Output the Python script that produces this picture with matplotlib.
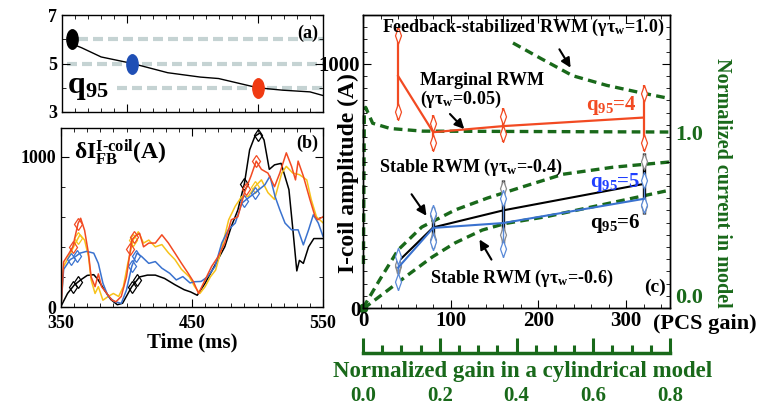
import numpy as np
import matplotlib
matplotlib.use("Agg")
import matplotlib.pyplot as plt
from matplotlib.markers import MarkerStyle
from matplotlib.path import Path
from matplotlib.transforms import Affine2D
from matplotlib.ticker import MultipleLocator

plt.rcParams['font.family'] = ['Liberation Serif', 'DejaVu Serif']
plt.rcParams['font.weight'] = 'bold'
plt.rcParams['axes.labelweight'] = 'bold'
plt.rcParams['mathtext.fontset'] = 'custom'
plt.rcParams['mathtext.rm'] = 'Liberation Serif:bold'
plt.rcParams['mathtext.bf'] = 'Liberation Serif:bold'
plt.rcParams['mathtext.it'] = 'Liberation Serif:bold'
plt.rcParams['axes.linewidth'] = 1.0

# ── panel (a): q95 vs time ─────────────────
q_t = [358, 365, 380, 404, 431, 456, 470, 500, 519, 540, 550]
q_v = [5.8, 5.65, 5.27, 5.0, 4.62, 4.44, 4.38, 4.0, 3.9, 3.83, 3.68]
q_mark_t = [358, 404, 500]
q_mark_v = [6.0, 5.0, 4.0]
q_mark_c = ['black', '#1f4fb5', '#f03a12']
ref_levels = [6, 5, 4]
ref_start = [362, 354, 392]

# ── panel (b): feedback current traces ─────
black_t = [350, 355, 360, 365, 370, 375, 378, 383, 388, 393, 397, 404, 410, 416, 422, 429, 437,
           444, 449, 454, 460, 467, 475, 480, 485, 490, 494, 498, 502, 505, 509, 513, 518, 524,
           527, 530, 532, 535, 539, 543, 550]
black_v = [5, 90, 145, 180, 210, 215, 185, 115, 50, 15, 25, 135, 200, 212, 212, 190, 148,
           115, 100, 78, 158, 270, 400, 535, 645, 820, 1045, 1135, 1158, 1110, 915, 945, 955, 780,
           515, 240, 310, 290, 400, 455, 455]
red_t = [350, 352, 356, 359, 363, 365, 368, 371, 373, 376, 378.5, 381, 385, 389, 392, 396, 400,
         404, 406.5, 410, 413, 417, 422, 427, 432, 437, 442, 447, 451, 455, 460, 465, 470, 475,
         480, 485, 490, 495, 499, 503, 508, 513, 517, 522, 526, 529, 531, 535, 540, 544, 546, 550]
red_v = [0, 300, 355, 400, 555, 590, 510, 355, 200, 135, 220, 135, 90, 45, 35, 70, 200,
         445, 470, 490, 400, 425, 425, 480, 425, 358, 290, 225, 170, 90, 180, 270, 335, 425,
         580, 600, 760, 870, 970, 915, 890, 800, 890, 1025, 935, 845, 970, 870, 715, 600, 580, 600]
yellow_t = [350, 352, 356, 361, 364.5, 368, 371, 373, 376, 378.5, 382, 386, 390, 394, 397.6,
            401, 405, 409, 413, 417, 422, 427, 432, 437, 442, 448, 452, 456, 460, 464, 468,
            473, 478, 483, 488, 493, 498, 503, 508, 513, 518.5, 522, 527, 532, 537.6, 541, 545, 550]
yellow_v = [0, 270, 335, 425, 480, 445, 335, 180, 90, 135, 45, 70, 90, 70, 135,
            290, 445, 500, 425, 445, 400, 415, 360, 315, 250, 200, 136, 90, 135, 200, 245,
            400, 580, 670, 735, 735, 800, 845, 760, 715, 890, 935, 890, 880, 845, 715, 600, 560]
blue_t = [350, 352, 357, 361, 364.5, 369.6, 375, 378.5, 382, 386, 391, 396, 400, 404, 408,
          411.5, 417, 422, 427, 433, 438, 443, 448.5, 452, 457, 462, 467.6, 472.7, 477.7, 483,
          488, 493, 498, 505.7, 509.5, 513.4, 517, 521, 526, 531, 535, 539, 542.6, 546.4, 550]
blue_v = [0, 250, 315, 335, 358, 370, 358, 290, 158, 70, 36, 24, 113, 270, 358,
          336, 290, 302, 258, 224, 180, 202, 160, 168, 170, 202, 270, 425, 513, 558,
          690, 725, 758, 813, 870, 735, 647, 558, 513, 513, 413, 513, 613, 558, 470]
black_mk = [359, 363, 404, 408, 490, 500]
red_mk = [359, 363, 403, 406, 491, 499]
yellow_mk = [363, 405, 498]
blue_mk = [358, 362, 404, 407, 490, 498]

# ── panel (c): I-coil amplitude vs PCS gain ─
gain = [40, 80, 160, 320]
red_amp = [950, 720, 745, 780]
red_lo = [770, 645, 680, 645]
red_hi = [1150, 790, 820, 915]
black_amp = [190, 330, 400, 508]
black_lo = [145, 245, 265, 385]
black_hi = [205, 415, 525, 635]
blue_amp = [165, 328, 348, 447]
blue_lo = [75, 238, 209, 389]
blue_hi = [246, 422, 484, 557]

# model curves (normalized current)
marg_g = [0.5, 1.5, 3, 11, 31, 68, 350]
marg_y = [0.25, 1.10, 1.14, 1.05, 1.02, 1.005, 1.0]
fb_g = [171, 202, 239, 278, 315, 350]
fb_y = [1.506, 1.42, 1.32, 1.265, 1.225, 1.19]
st4_g = [0, 19, 40, 67, 105, 142, 181, 228, 285, 350]
st4_y = [0, 0.16, 0.33, 0.46, 0.557, 0.625, 0.687, 0.76, 0.80, 0.83]
st6_g = [0, 6, 28, 48, 79, 105, 136, 162, 210, 285, 350]
st6_y = [0, 0.017, 0.10, 0.176, 0.29, 0.37, 0.443, 0.48, 0.52, 0.60, 0.67]

GREEN = '#19691a'
RED = '#f24a22'
BLUE = '#3a72cf'
YEL = '#f7c21a'

fig = plt.figure(figsize=(7.71, 4.08), dpi=100)
W, H = 771, 408


def box(l, t, r, b):
    return [l / W, 1 - b / H, (r - l) / W, (b - t) / H]


def style(ax):
    ax.tick_params(which='both', direction='in', top=True, right=True, labelsize=13)
    ax.tick_params(which='major', length=6)
    ax.tick_params(which='minor', length=3)


# ── (a) ─────────────────────────────────────
axa = fig.add_axes(box(62, 15, 323, 112))
for lev, st in zip(ref_levels, ref_start):
    axa.plot([st, 550], [lev, lev], color='#c5d3d3', lw=3, ls=(0, (2.4, 1.2)), zorder=1)
axa.plot(q_t, q_v, color='black', lw=1.0, zorder=2)
ell = MarkerStyle('o', transform=Affine2D().scale(0.58, 1))
for t, v, c in zip(q_mark_t, q_mark_v, q_mark_c):
    axa.plot(t, v, marker=ell, ms=14, color=c, mec=c, zorder=3)
axa.set_xlim(350, 550)
axa.set_ylim(3, 7)
axa.set_yticks([3, 5, 7])
axa.xaxis.set_major_locator(MultipleLocator(100))
axa.xaxis.set_minor_locator(MultipleLocator(10))
axa.yaxis.set_minor_locator(MultipleLocator(1))
style(axa)
axa.set_xticklabels([])
axa.text(0.94, 0.81, '(a)', transform=axa.transAxes, fontsize=13, ha='center', va='center')
axa.text(0.02, 0.25, r'$\mathrm{q_{95}}$', transform=axa.transAxes, fontsize=23,
         ha='left', va='center')

# ── (b) ─────────────────────────────────────
axb = fig.add_axes(box(61, 128, 323, 307))
for tt, vv, mk, c in [(black_t, black_v, black_mk, 'black'), (yellow_t, yellow_v, yellow_mk, YEL),
                      (blue_t, blue_v, blue_mk, BLUE), (red_t, red_v, red_mk, RED)]:
    axb.plot(tt, vv, color=c, lw=1.1)
    axb.plot(mk, np.interp(mk, tt, vv), ls='none', marker='d', ms=6, mfc='none', mec=c, mew=0.9)
axb.set_xlim(350, 550)
axb.set_ylim(0, 1190)
axb.set_xticks([350, 450, 550])
axb.set_yticks([0, 1000])
axb.xaxis.set_minor_locator(MultipleLocator(10))
axb.yaxis.set_minor_locator(MultipleLocator(200))
style(axb)
axb.tick_params(axis='x', pad=6)
axb.set_xlabel('Time (ms)', fontsize=15, labelpad=0)
axb.text(0.94, 0.915, '(b)', transform=axb.transAxes, fontsize=13, ha='center', va='center')
axb.text(0.05, 0.86, r'$\mathrm{\delta I}^{\text{I-coil}}_{\mathrm{FB}}$(A)', transform=axb.transAxes,
         fontsize=17, ha='left', va='center')

# ── (c) ─────────────────────────────────────
axc = fig.add_axes(box(363, 15, 670, 308))
axr = axc.twinx()
axr.set_zorder(0)
axc.set_zorder(1)
axc.patch.set_visible(False)

dash = (0, (2.6, 1.6))
for gg, yy in [(marg_g, marg_y), (fb_g, fb_y), (st4_g, st4_y), (st6_g, st6_y)]:
    axr.plot(gg, yy, color=GREEN, lw=2.4, ls=dash, clip_on=False)
axr.plot(0, 0, 'o', color=GREEN, ms=6, clip_on=False)
axr.set_ylim(0, 1.665)
axr.set_yticks([0, 1])
axr.set_yticklabels(['0.0', '1.0'], color=GREEN, fontsize=16)
axr.get_yticklabels()[0].set_va('bottom')
axr.tick_params(axis='y', length=0, pad=4)

top_cap = Path([(0, 0), (0.18, -0.5), (0, -1), (-0.18, -0.5), (0, 0)])
bot_cap = Path([(0, 0), (0.18, 0.5), (0, 1), (-0.18, 0.5), (0, 0)])


def errs(lo, hi, c, ec, lw):
    axc.vlines(gain, lo, hi, color=c, lw=lw)
    axc.plot(gain, hi, ls='none', marker=top_cap, ms=24, mfc='white', mec=ec, mew=0.9)
    axc.plot(gain, lo, ls='none', marker=bot_cap, ms=24, mfc='white', mec=ec, mew=0.9)


errs(red_lo, red_hi, RED, RED, 1.6)
axc.plot(gain, red_amp, color=RED, lw=1.6)
errs(black_lo, black_hi, 'black', '#8a8a8a', 2.4)
axc.plot(gain, black_amp, color='black', lw=1.5)
errs(blue_lo, blue_hi, '#5a8ad8', '#5a8ad8', 1.0)
axc.plot(gain, blue_amp, color=BLUE, lw=1.5)

axc.set_xlim(0, 350)
axc.set_ylim(0, 1200)
axc.set_xticks([0, 100, 200, 300])
axc.set_yticks([0, 1000])
axc.xaxis.set_minor_locator(MultipleLocator(20))
axc.yaxis.set_minor_locator(MultipleLocator(50))
axc.tick_params(which='both', direction='in', top=True, right=True, labelsize=15, pad=2)
axc.tick_params(which='major', length=6)
axc.tick_params(which='minor', length=3)

tk = dict(transform=axc.transAxes, fontsize=13, ha='left', va='center')
axc.text(0.062, 0.956, r'Feedback-stabilized RWM (γτ$_\mathrm{w}$=1.0)', **tk)
axc.text(0.186, 0.778, 'Marginal RWM', **tk)
axc.text(0.186, 0.712, r'(γτ$_\mathrm{w}$=0.05)', **tk)
axc.text(0.052, 0.481, r'Stable RWM (γτ$_\mathrm{w}$=-0.4)', **tk)
axc.text(0.218, 0.102, r'Stable RWM (γτ$_\mathrm{w}$=-0.6)', **tk)
axc.text(0.726, 0.69, r'$\mathrm{q_{95}}$=4', transform=axc.transAxes, fontsize=15,
         color=RED, ha='left', va='center')
axc.text(0.739, 0.43, r'$\mathrm{q_{95}}$=5', transform=axc.transAxes, fontsize=15,
         color='#1f3fff', ha='left', va='center')
axc.text(0.739, 0.29, r'$\mathrm{q_{95}}$=6', transform=axc.transAxes, fontsize=15,
         color='black', ha='left', va='center')
axc.text(0.95, 0.072, '(c)', transform=axc.transAxes, fontsize=14, ha='center', va='center')

arrows = [((0.635, 0.891), (0.681, 0.812)),
          ((0.277, 0.669), (0.336, 0.604)),
          ((0.153, 0.396), (0.212, 0.307)),
          ((0.423, 0.157), (0.375, 0.242))]
for tail, head in arrows:
    axc.annotate('', xy=head, xytext=tail, xycoords='axes fraction', textcoords='axes fraction',
                 arrowprops=dict(arrowstyle='-|>', color='black', lw=1.5, mutation_scale=14))

fig.text(348 / W, 1 - 173 / H, 'I-coil amplitude (A)', rotation=90, fontsize=17,
         ha='center', va='center')
fig.text(722 / W, 1 - 183 / H, 'Normalized current in model', rotation=270, fontsize=14.5,
         color=GREEN, ha='center', va='center')
fig.text(653 / W, 1 - 324 / H, '(PCS gain)', fontsize=16, ha='left', va='center')

# ── secondary gain axis ─────────────────────
axn = fig.add_axes([363 / W, 1 - 353 / H, 307 / W, 0.0005])
for s in ['top', 'left', 'right']:
    axn.spines[s].set_visible(False)
axn.spines['bottom'].set_color(GREEN)
axn.spines['bottom'].set_linewidth(2.5)
axn.patch.set_visible(False)
axn.set_yticks([])
axn.set_xlim(0, 0.8)
axn.set_xticks([0, 0.2, 0.4, 0.6, 0.8])
axn.set_xticklabels(['0.0', '0.2', '0.4', '0.6', '0.8'], color=GREEN, fontsize=15)
axn.xaxis.set_minor_locator(MultipleLocator(0.05))
axn.tick_params(which='both', direction='in', color=GREEN, width=2.2, pad=24)
axn.tick_params(which='major', length=11)
axn.tick_params(which='minor', length=6)
fig.text(523 / W, 1 - 372 / H, 'Normalized gain in a cylindrical model', fontsize=16.5,
         color=GREEN, ha='center', va='center')

fig.savefig('out.png', dpi=100)
